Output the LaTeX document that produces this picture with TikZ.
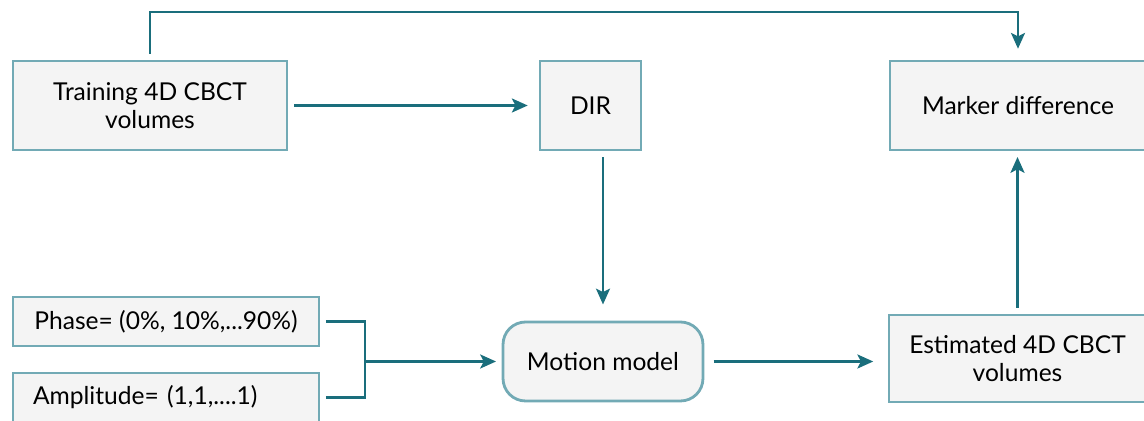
\documentclass[tikz,border=0pt]{standalone}
\usepackage{fontspec}
\setmainfont{Lato}
\usetikzlibrary{arrows.meta}

\definecolor{boxline}{HTML}{72AAB5}
\definecolor{boxfill}{HTML}{F4F4F4}
\definecolor{flow}{HTML}{1A6E7C}

\begin{document}
\begin{tikzpicture}[x=0.02cm,y=-0.02cm,
    every node/.style={font=\fontsize{14}{16}\selectfont,align=center,outer sep=4pt},
    box/.style={draw=boxline,fill=boxfill,line width=1.6pt,inner sep=0pt},
    link/.style={draw=flow,line width=1.2pt},
    arrow/.style={link,-{Stealth[length=9pt,width=8pt,inset=2pt]}}]
    \useasboundingbox (0,0) rectangle (1144,421);

    \node[box,minimum width=5.48cm,minimum height=1.78cm] (train) at (150,105.5) {Training 4D CBCT\\volumes};
    \node[box,minimum width=2.02cm,minimum height=1.78cm] (dir) at (590.5,105.5) {DIR};
    \node[box,minimum width=5.12cm,minimum height=1.78cm] (marker) at (1018,105.5) {Marker difference};
    \node[box,minimum width=6.12cm,minimum height=0.98cm] (phase) at (166,321.5) {Phase= (0\%, 10\%,...90\%)};
    \node[box,minimum width=6.12cm,minimum height=0.98cm,text width=5.32cm,align=left,inner xsep=0.4cm] (amp) at (166,397.5) {Amplitude= (1,1,....1)};
    \node[box,rounded corners=0.45cm,minimum width=4cm,minimum height=1.58cm] (motion) at (603,361.5) {Motion model};
    \node[box,minimum width=5.14cm,minimum height=1.74cm] (est) at (1017.5,358.5) {Estimated 4D CBCT\\volumes};

    \coordinate (top) at (600,12);
    \coordinate (join) at (365,361.5);

    \draw[arrow,shorten >=3pt] (train.north) |- (top) -| (marker.north);
    \draw[arrow,shorten >=3pt] (train.east) -- (dir.west);
    \draw[arrow,shorten >=6pt] (motion.north |- dir.south) -- (motion.north);
    \draw[link] (phase.east) -| (join);
    \draw[link] (amp.east) -| (join);
    \draw[arrow] (join) -- (motion.west);
    \draw[arrow,shorten <=2pt,shorten >=5pt] (motion.east) -- (motion.east -| est.west);
    \draw[arrow] (est.north) -- (est.north |- marker.south);
\end{tikzpicture}
\end{document}
